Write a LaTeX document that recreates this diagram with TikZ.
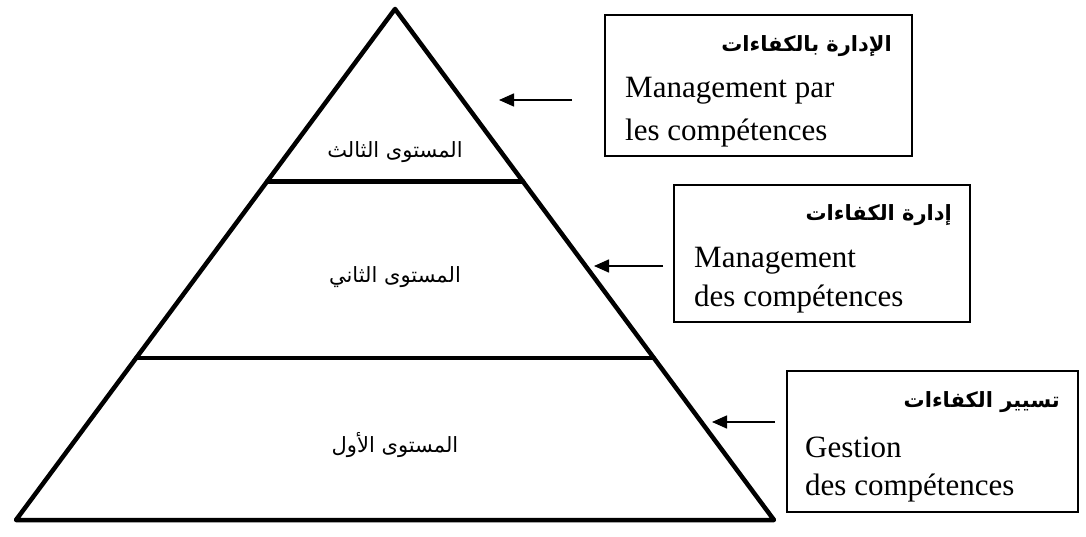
\documentclass[tikz,border=0pt]{standalone}
\usepackage{fontspec}
\setmainfont{Liberation Serif}
\newfontfamily\arabicfont[Script=Arabic]{DejaVu Sans}
\TeXXeTstate=1
\usetikzlibrary{arrows.meta,calc}
\tikzset{
  tier/.style={line width=4.5pt, line join=round, line cap=round},
  infobox/.style={draw, line width=1.5pt, rectangle, inner sep=0pt},
  latin/.style={font=\fontsize{31}{37}\selectfont, inner sep=0pt, anchor=base west},
  artitle/.style={font=\arabicfont\bfseries\fontsize{21}{25}\selectfont, inner sep=0pt, anchor=east},
  arlevel/.style={font=\arabicfont\fontsize{21}{25}\selectfont, inner sep=0pt},
  pointer/.style={line width=1.5pt, -{Triangle[length=15pt, width=13pt]}}
}
\begin{document}
\begin{tikzpicture}[x=1pt, y=-1pt]
\useasboundingbox (0,0) rectangle (1086,537);
% pyramid outline and tier separators
\coordinate (apex) at (395,9);
\coordinate (bl) at (16,520);
\coordinate (br) at (774,520);
\draw[tier] (apex) -- (bl) -- (br) -- cycle;
\coordinate (t1l) at ($(apex)!0.338!(bl)$);
\coordinate (t1r) at ($(apex)!0.338!(br)$);
\coordinate (t2l) at ($(apex)!0.683!(bl)$);
\coordinate (t2r) at ($(apex)!0.683!(br)$);
\draw[tier] (t1l) -- (t1r);
\draw[tier] (t2l) -- (t2r);
% level labels
\node[arlevel] (lv3) at (395,152) {\beginR المستوى الثالث\endR};
\node[arlevel] (lv2) at (395,277) {\beginR المستوى الثاني\endR};
\node[arlevel] (lv1) at (395,445) {\beginR المستوى الأول\endR};
% boxes
\node[infobox, minimum width=307pt, minimum height=141pt] (box1) at (758.5,85.5) {};
\node[infobox, minimum width=296pt, minimum height=137pt] (box2) at (822,253.5) {};
\node[infobox, minimum width=291pt, minimum height=141pt] (box3) at (932.5,441.5) {};
% box texts
\node[artitle] (a1) at (892,46) {\beginR الإدارة بالكفاءات\endR};
\node[latin] (m1) at (625,98) {Management par};
\node[latin] (c1) at (625,141) {les compétences};
\node[artitle] (a2) at (952,215) {\beginR إدارة الكفاءات\endR};
\node[latin] (m2) at (694,267) {Management};
\node[latin] (c2) at (694,306) {des compétences};
\node[artitle] (a3) at (1060,402) {\beginR تسيير الكفاءات\endR};
\node[latin] (m3) at (805,457) {Gestion};
\node[latin] (c3) at (805,495) {des compétences};
% pointers
\coordinate (p1s) at (572,100);
\coordinate (p1e) at (499,100);
\coordinate (p2s) at (663,266);
\coordinate (p2e) at (594,266);
\coordinate (p3s) at (775,422);
\coordinate (p3e) at (712,422);
\draw[pointer] (p1s) -- (p1e);
\draw[pointer] (p2s) -- (p2e);
\draw[pointer] (p3s) -- (p3e);
\end{tikzpicture}
\end{document}
